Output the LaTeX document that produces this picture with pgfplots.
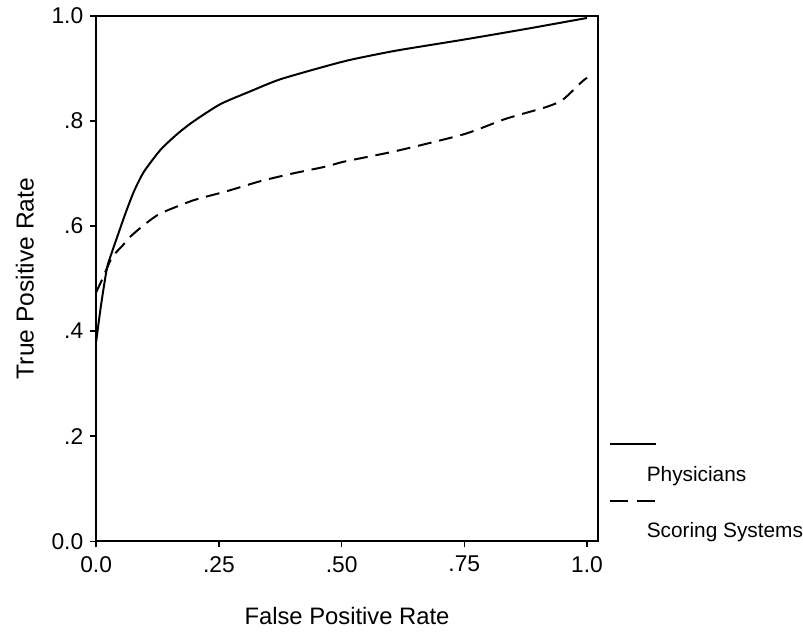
\documentclass[border=0pt]{standalone}
\usepackage{fontspec}
\setmainfont{Liberation Sans}
\usepackage{pgfplots}
\pgfplotsset{compat=1.18}

\begin{document}
\begin{tikzpicture}
\begin{axis}[
  name=ax,
  scale only axis,
  width=253pt, height=265pt,
  xmin=0, xmax=1.022,
  ymin=0, ymax=1.0,
  axis line style={line width=1pt},
  tick style={line width=0.8pt, black},
  tick align=outside,
  major tick length=3pt,
  xtick pos=bottom, ytick pos=left,
  xtick={0,0.25,0.5,0.75,1.0},
  xticklabels={0.0,.25,.50,.75,1.0},
  ytick={0,0.2,0.4,0.6,0.8,1.0},
  yticklabels={0.0,.2,.4,.6,.8,1.0},
  tick label style={font=\fontsize{11.5}{13}\selectfont},
  xticklabel style={yshift=-1pt},
  xlabel={False Positive Rate},
  ylabel={True Positive Rate},
  every axis x label/.style={at={(axis description cs:0.5,-0.143)}, anchor=center,
    font=\fontsize{12}{14}\selectfont},
  every axis y label/.style={at={(axis description cs:-0.142,0.5)}, rotate=90, anchor=center,
    font=\fontsize{12.4}{14}\selectfont},
  clip=false,
]
% Physicians
\addplot[black, line width=1pt, smooth, tension=0.4] coordinates {
  (0,0.38) (0.01,0.45) (0.022,0.52) (0.032,0.55) (0.042,0.577)
  (0.06,0.625) (0.077,0.666) (0.097,0.703) (0.131,0.745) (0.165,0.775)
  (0.198,0.799) (0.253,0.832) (0.313,0.856) (0.374,0.879) (0.467,0.904)
  (0.521,0.917) (0.612,0.934) (0.75,0.955) (0.875,0.975) (1.0,0.996)
};
% Scoring Systems
\addplot[black, line width=1pt, smooth, tension=0.4, dash pattern=on 7pt off 4pt] coordinates {
  (0,0.474) (0.012,0.498) (0.032,0.54) (0.053,0.562) (0.071,0.581)
  (0.1,0.604) (0.131,0.624) (0.198,0.649) (0.265,0.666) (0.333,0.685)
  (0.4,0.70) (0.467,0.713) (0.507,0.723) (0.612,0.743) (0.75,0.775)
  (0.834,0.804) (0.915,0.826) (0.95,0.84) (0.99,0.875) (1.0,0.882)
};
\end{axis}
% legend
\draw[line width=1pt] ([xshift=6pt,yshift=49pt]ax.south east) -- ++(23.5pt,0);
\node[anchor=west, inner sep=0pt, font=\fontsize{10.5}{12}\selectfont]
  at ([xshift=24.5pt,yshift=33pt]ax.south east) {Physicians};
\draw[line width=1pt, dash pattern=on 9pt off 5pt] ([xshift=6pt,yshift=20.5pt]ax.south east) -- ++(23.5pt,0);
\node[anchor=west, inner sep=0pt, font=\fontsize{10.5}{12}\selectfont]
  at ([xshift=24.5pt,yshift=4.5pt]ax.south east) {Scoring Systems};
% page frame in the reference's proportions
\path ([xshift=-48.5pt,yshift=-44.5pt]ax.south west) rectangle ++(401.5pt,317.5pt);
\end{tikzpicture}
\end{document}
